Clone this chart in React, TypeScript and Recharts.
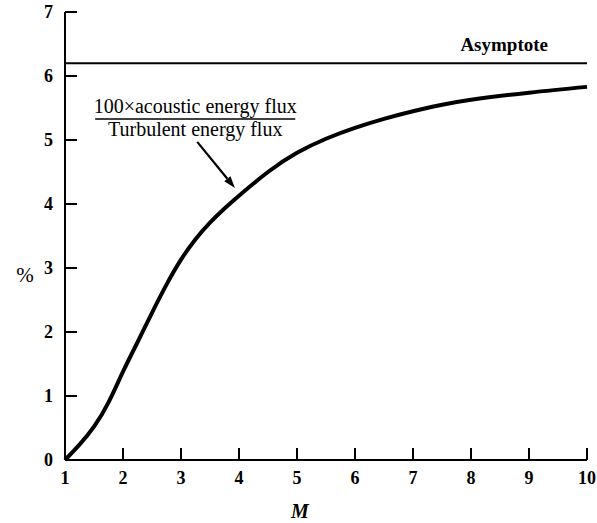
import { LineChart, Line, XAxis, YAxis, ReferenceLine, Label } from "recharts"

// Mach number and percentage
const machNumbers = [1, 1.25, 1.5, 1.75, 2, 2.25, 2.5, 2.75, 3, 3.25, 3.5, 3.75, 4, 4.5, 5, 5.5, 6, 6.5, 7, 7.5, 8, 9, 10]
const fluxRatio = [0, 0.24, 0.52, 0.9, 1.38, 1.84, 2.3, 2.74, 3.13, 3.45, 3.71, 3.93, 4.13, 4.5, 4.8, 5.02, 5.19, 5.33, 5.45, 5.55, 5.63, 5.74, 5.83]
const xTicks = [1, 2, 3, 4, 5, 6, 7, 8, 9, 10]
const yTicks = [0, 1, 2, 3, 4, 5, 6, 7]
const asymptote = 6.2

const chartData = machNumbers.map((m, i) => ({ m, pct: fluxRatio[i] }))

const serif = "'Liberation Serif', 'Times New Roman', serif"

function YTick(props: any) {
  const { x, y, payload } = props
  return (
    <g>
      <line x1={x} y1={y} x2={x + 12} y2={y} stroke="#000" strokeWidth={2} />
      <text x={x - 12} y={y} dy="0.35em" textAnchor="end" fontFamily={serif} fontWeight="bold" fontSize={18} fill="#000">
        {payload.value}
      </text>
    </g>
  )
}

function XTick(props: any) {
  const { x, y, payload } = props
  return (
    <g>
      {payload.value > 1 && <line x1={x} y1={y} x2={x} y2={y - 12} stroke="#000" strokeWidth={2} />}
      <text x={x} y={y + 18} dy="0.35em" textAnchor="middle" fontFamily={serif} fontWeight="bold" fontSize={18} fill="#000">
        {payload.value}
      </text>
    </g>
  )
}

function Arrow(props: any) {
  const { x1, y1, x2, y2 } = props
  const a = Math.atan2(y2 - y1, x2 - x1)
  const len = 12
  const w = 4
  const bx = x2 - len * Math.cos(a)
  const by = y2 - len * Math.sin(a)
  const pts = [
    `${x2},${y2}`,
    `${bx + w * Math.sin(a)},${by - w * Math.cos(a)}`,
    `${bx - w * Math.sin(a)},${by + w * Math.cos(a)}`,
  ].join(" ")
  return (
    <g>
      <line x1={x1} y1={y1} x2={bx} y2={by} stroke="#000" strokeWidth={2.2} />
      <polygon points={pts} fill="#000" />
    </g>
  )
}

export default function App() {
  return (
    <div style={{ position: "absolute", left: 0, top: 0, background: "#fff" }}>
      <LineChart width={597} height={523} data={chartData} margin={{ top: 12, right: 10, left: 0, bottom: 0 }}>
        <XAxis
          dataKey="m"
          type="number"
          domain={[1, 10]}
          ticks={xTicks}
          height={63}
          tickSize={0}
          tickMargin={0}
          tickLine={false}
          axisLine={{ stroke: "#000", strokeWidth: 2 }}
          tick={<XTick />}
          interval={0}
        >
          <Label
            content={(p: any) => (
              <text
                x={p.viewBox.x + p.viewBox.width / 2 - 26}
                y={p.viewBox.y + 51}
                dy="0.35em"
                textAnchor="middle"
                fontFamily={serif}
                fontStyle="italic"
                fontWeight="bold"
                fontSize={20}
                fill="#000"
              >
                M
              </text>
            )}
          />
        </XAxis>
        <YAxis
          type="number"
          domain={[0, 7]}
          ticks={yTicks}
          width={65}
          tickSize={0}
          tickMargin={0}
          tickLine={false}
          axisLine={{ stroke: "#000", strokeWidth: 2 }}
          tick={<YTick />}
          interval={0}
        >
          <Label
            content={(p: any) => (
              <text
                x={p.viewBox.x + 25}
                y={p.viewBox.y + p.viewBox.height / 2 + 39}
                dy="0.35em"
                textAnchor="middle"
                fontFamily={serif}
                fontSize={21}
                fill="#000"
              >
                %
              </text>
            )}
          />
        </YAxis>
        <ReferenceLine
          y={asymptote}
          stroke="#000"
          strokeWidth={2}
          label={(p: any) => (
            <text
              x={p.viewBox.x + p.viewBox.width - 39}
              y={p.viewBox.y - 12}
              textAnchor="end"
              fontFamily={serif}
              fontWeight="bold"
              fontSize={19}
              fill="#000"
            >
              Asymptote
            </text>
          )}
        />
        <ReferenceLine
          segment={[{ x: 1.52, y: 5.33 }, { x: 4.97, y: 5.33 }]}
          stroke="#000"
          strokeWidth={1.5}
          label={(p: any) => {
            const cx = p.viewBox.x + p.viewBox.width / 2
            return (
              <g fontFamily={serif} fontSize={20} fill="#000" textAnchor="middle">
                <text x={cx} y={p.viewBox.y - 6}>100×acoustic energy flux</text>
                <text x={cx} y={p.viewBox.y + 17}>Turbulent energy flux</text>
              </g>
            )
          }}
        />
        <ReferenceLine segment={[{ x: 3.28, y: 4.97 }, { x: 3.93, y: 4.25 }]} shape={<Arrow />} />
        <Line
          type="natural"
          dataKey="pct"
          stroke="#000"
          strokeWidth={4}
          dot={false}
          isAnimationActive={false}
        />
      </LineChart>
    </div>
  )
}
